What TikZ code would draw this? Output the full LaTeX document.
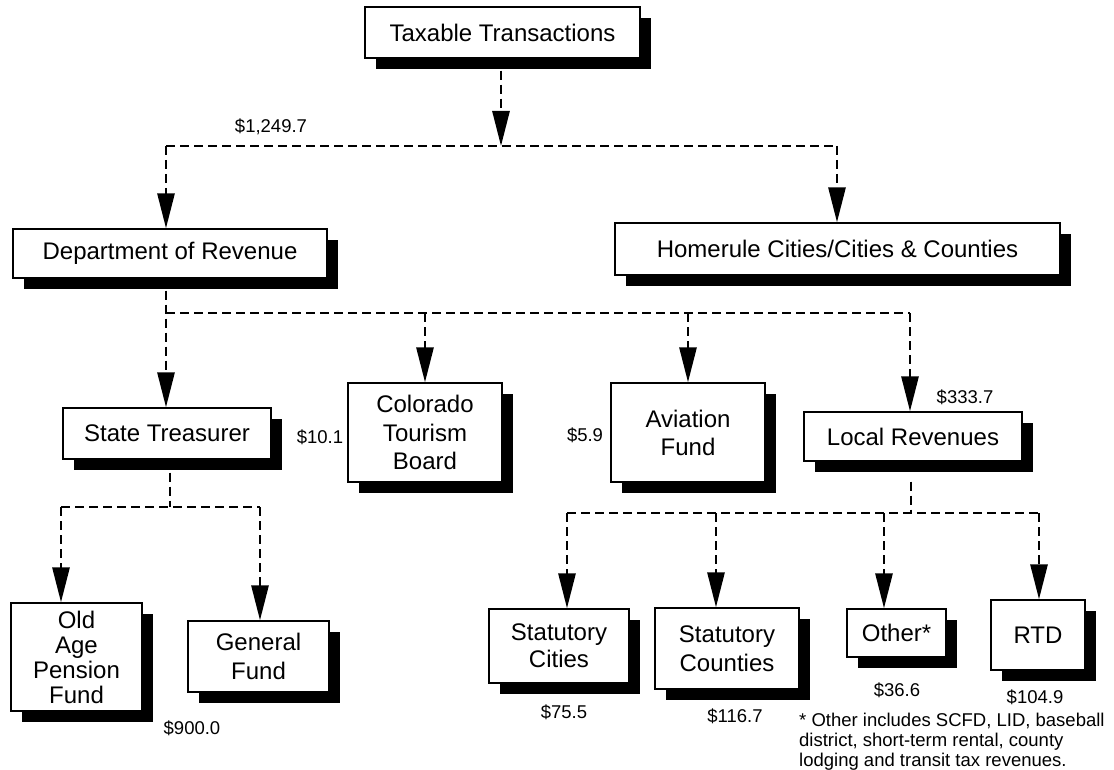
\documentclass[tikz,border=0pt]{standalone}
\usepackage{fontspec}
\setmainfont{Liberation Sans}
\usetikzlibrary{arrows.meta,shadows}
\tikzset{
  box/.style={draw=black, line width=1.3pt, fill=white, inner sep=0pt, align=center,
    font=\fontsize{24}{27}\selectfont,
    general shadow={fill=black, shadow xshift=11pt, shadow yshift=-11pt}},
  dline/.style={line width=2.8pt, dash pattern=on 9pt off 5pt},
  arr/.style={-{Triangle[length=35pt,width=17pt]}},
  amount/.style={font=\fontsize{18.5}{20}\selectfont, inner sep=0pt},
}
\begin{document}
\begin{tikzpicture}[x=1pt,y=-1pt]
\useasboundingbox[fill=white] (0,0) rectangle (1114,770);

% boxes
\node[box, minimum width=275pt, minimum height=51pt] (tax) at (502.5,32.5) {Taxable Transactions};
\node[box, minimum width=314pt, minimum height=49pt] (dor) at (170,253.5) {Department of Revenue};
\node[box, minimum width=445pt, minimum height=52pt] (home) at (837.5,249) {Homerule Cities/Cities \& Counties};
\node[box, minimum width=208pt, minimum height=51pt] (st) at (167,433.5) {State Treasurer};
\node[box, minimum width=154pt, minimum height=99pt, font=\fontsize{24}{28.5}\selectfont] (ctb) at (425,432.5) {Colorado\\Tourism\\Board};
\node[box, minimum width=154pt, minimum height=99pt, font=\fontsize{24}{28}\selectfont] (av) at (688,432.5) {Aviation\\Fund};
\node[box, minimum width=218pt, minimum height=49pt] (lr) at (913,436.5) {Local Revenues};
\node[box, minimum width=131pt, minimum height=108pt, font=\fontsize{24}{25}\selectfont] (oap) at (76.5,657) {Old\\Age\\Pension\\Fund};
\node[box, minimum width=141pt, minimum height=71pt, font=\fontsize{24}{29}\selectfont] (gf) at (258.5,656.5) {General\\Fund};
\node[box, minimum width=140pt, minimum height=74pt] (sc) at (559,646) {Statutory\\Cities};
\node[box, minimum width=144pt, minimum height=81pt, font=\fontsize{24}{29}\selectfont] (sco) at (727,648.5) {Statutory\\Counties};
\node[box, minimum width=99pt, minimum height=48pt] (oth) at (896.5,633) {Other*};
\node[box, minimum width=94pt, minimum height=70pt] (rtd) at (1038,635) {RTD};

% junction coordinates
\coordinate (j1) at (501,146);
\coordinate (j1L) at (166,146);
\coordinate (j1R) at (837,146);
\coordinate (j2L) at (166,313);
\coordinate (j2R) at (910,313);
\coordinate (j3) at (170,507);
\coordinate (j3L) at (61,507);
\coordinate (j3R) at (260,507);
\coordinate (j4) at (911,513);
\coordinate (j4L) at (567,513);
\coordinate (j4b) at (716,513);
\coordinate (j4c) at (884,513);
\coordinate (j4R) at (1039,513);

% connectors level 1
\draw[dline, arr, shorten <=12pt] (tax.south -| j1) -- (j1);
\draw[dline] (j1L) -- (j1R);
\draw[dline, arr] (j1L) -- (j1L |- dor.north);
\draw[dline, arr] (j1R) -- (j1R |- home.north);

% level 2
\draw[dline, arr, shorten <=12pt] (dor.south -| j2L) -- (j2L |- st.north);
\draw[dline] (j2L) -- (j2R);
\draw[dline, arr] (ctb.north |- j2L) -- (ctb.north);
\draw[dline, arr] (av.north |- j2L) -- (av.north);
\draw[dline, arr] (j2R) -- (j2R |- lr.north);

% state treasurer
\draw[dline, shorten <=13pt] (st.south -| j3) -- (j3);
\draw[dline] (j3L) -- (j3R);
\draw[dline, arr] (j3L) -- (j3L |- oap.north);
\draw[dline, arr] (j3R) -- (j3R |- gf.north);

% local revenues
\draw[dline, shorten <=20pt] (lr.south -| j4) -- (j4);
\draw[dline] (j4L) -- (j4R);
\draw[dline, arr] (j4L) -- (j4L |- sc.north);
\draw[dline, arr] (j4b) -- (j4b |- sco.north);
\draw[dline, arr] (j4c) -- (j4c |- oth.north);
\draw[dline, arr] (j4R) -- (j4R |- rtd.north);

% amounts
\node[amount] (a1) at (271,127) {\$1,249.7};
\node[amount] (a2) at (320,437) {\$10.1};
\node[amount] (a3) at (585,435) {\$5.9};
\node[amount] (a4) at (965,397) {\$333.7};
\node[amount] (a5) at (192,728) {\$900.0};
\node[amount] (a6) at (564,712) {\$75.5};
\node[amount] (a7) at (735,716) {\$116.7};
\node[amount] (a8) at (897,690) {\$36.6};
\node[amount] (a9) at (1035,697) {\$104.9};

% footnote
\node[amount, anchor=north west, align=left] (fn) at (799,712.5)
  {* Other includes SCFD, LID, baseball\\district, short-term rental, county\\lodging and transit tax revenues.};
\end{tikzpicture}
\end{document}
